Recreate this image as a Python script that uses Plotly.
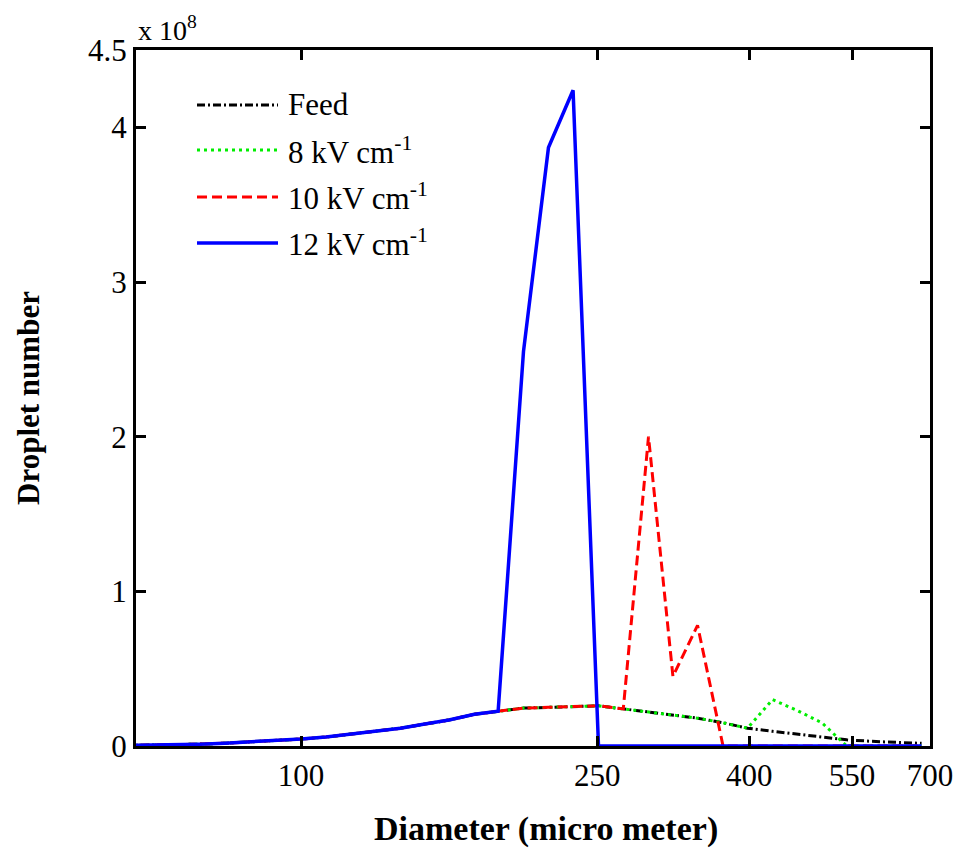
import plotly.graph_objects as go

# Droplet diameter bins (micro meter)
diameter = [58, 62, 67, 73, 79, 85, 92, 100, 108, 116, 126, 136, 146, 158, 171, 184,
            199, 215, 232, 251, 271, 293, 316, 341, 369, 398, 430, 464, 501, 541,
            585, 631, 682]

# Droplet numbers in units of 1e8
feed = [0.003, 0.005, 0.008, 0.012, 0.018, 0.025, 0.035, 0.045, 0.058, 0.075, 0.095,
        0.115, 0.14, 0.168, 0.205, 0.225, 0.245, 0.25, 0.255, 0.26, 0.24, 0.22, 0.2,
        0.18, 0.15, 0.115, 0.095, 0.077, 0.058, 0.04, 0.03, 0.024, 0.017]
kv8 = [0.003, 0.005, 0.008, 0.012, 0.018, 0.025, 0.035, 0.045, 0.058, 0.075, 0.095,
       0.115, 0.14, 0.168, 0.205, 0.225, 0.245, 0.25, 0.255, 0.26, 0.24, 0.22, 0.2,
       0.18, 0.15, 0.115, 0.30, 0.23, 0.15, 0.0, 0.0, 0.0, 0.0]
kv10 = [0.003, 0.005, 0.008, 0.012, 0.018, 0.025, 0.035, 0.045, 0.058, 0.075, 0.095,
        0.115, 0.14, 0.168, 0.205, 0.225, 0.245, 0.25, 0.255, 0.26, 0.24, 2.0, 0.45,
        0.78, 0.0, 0.0, 0.0, 0.0, 0.0, 0.0, 0.0, 0.0, 0.0]
kv12 = [0.003, 0.005, 0.008, 0.012, 0.018, 0.025, 0.035, 0.045, 0.058, 0.075, 0.095,
        0.115, 0.14, 0.168, 0.205, 0.225, 2.55, 3.87, 4.24, 0.0, 0.0, 0.0, 0.0,
        0.0, 0.0, 0.0, 0.0, 0.0, 0.0, 0.0, 0.0, 0.0, 0.0]

series_names = ["Feed", "8 kV cm<sup>-1</sup>", "10 kV cm<sup>-1</sup>", "12 kV cm<sup>-1</sup>"]
series_values = [feed, kv8, kv10, kv12]
series_colors = ["#000000", "#00ee00", "#ff0000", "#0000ff"]
series_dash = ["8px,3px,2px,3px", "3px,4px", "10px,5px", "solid"]
series_width = [3, 3, 3, 3.5]

x_ticks = [100, 250, 400, 550, 700]
y_ticks = [0, 1, 2, 3, 4, 4.5]

FONT = "Liberation Serif"

fig = go.Figure()
for name, vals, col, dash, w in zip(series_names, series_values, series_colors, series_dash, series_width):
    fig.add_trace(go.Scatter(x=diameter, y=vals, mode="lines", name=name,
                             line=dict(color=col, dash=dash, width=w), showlegend=False))

# manual legend (longer line samples, as in the original)
leg_y = [105, 150, 197, 243]
for name, col, dash, w, py in zip(series_names, series_colors, series_dash, series_width, leg_y):
    yp = (746 - py) / 696
    fig.add_shape(type="line", xref="paper", yref="paper",
                  x0=(197 - 136) / 794, x1=(278 - 136) / 794, y0=yp, y1=yp,
                  line=dict(color=col, dash=dash, width=w))
    fig.add_annotation(xref="paper", yref="paper", x=(286 - 136) / 794, y=yp,
                       text=name, showarrow=False, xanchor="left", yanchor="middle",
                       font=dict(family=FONT, size=31, color="black"))

fig.add_annotation(xref="paper", yref="paper", x=0.0, y=1.0, yshift=2,
                   text="x 10<sup>8</sup>", showarrow=False, xanchor="left", yanchor="bottom",
                   font=dict(family=FONT, size=28, color="black"))

# x axis title placed as in the original (slightly right of centre)
fig.add_annotation(xref="paper", yref="paper", x=(546 - 136) / 794, y=(746 - 829) / 696,
                   text="<b>Diameter (micro meter)</b>", showarrow=False,
                   xanchor="center", yanchor="middle",
                   font=dict(family=FONT, size=34, color="black"))

fig.update_layout(
    width=955, height=852,
    margin=dict(l=136, r=25, t=50, b=106),
    paper_bgcolor="white", plot_bgcolor="white",
    font=dict(family=FONT, size=28, color="black"),
)
fig.update_xaxes(type="log", range=[1.7782, 2.8451], automargin=False,
                 tickvals=x_ticks, ticktext=[str(v) for v in x_ticks],
                 ticks="inside", ticklen=10, tickwidth=3, tickcolor="black",
                 showline=True, linewidth=3, linecolor="black", mirror="allticks",
                 showgrid=False, zeroline=False,
                 tickfont=dict(family=FONT, size=31))
fig.update_yaxes(range=[0, 4.5], automargin=False,
                 tickvals=y_ticks, ticktext=["0", "1", "2", "3", "4", "4.5"],
                 ticks="inside", ticklen=10, tickwidth=3, tickcolor="black",
                 showline=True, linewidth=3, linecolor="black", mirror="allticks",
                 showgrid=False, zeroline=False,
                 tickfont=dict(family=FONT, size=31),
                 title=dict(text="<b>Droplet number</b>", standoff=40,
                            font=dict(family=FONT, size=31)))

fig.write_html("out.html")
